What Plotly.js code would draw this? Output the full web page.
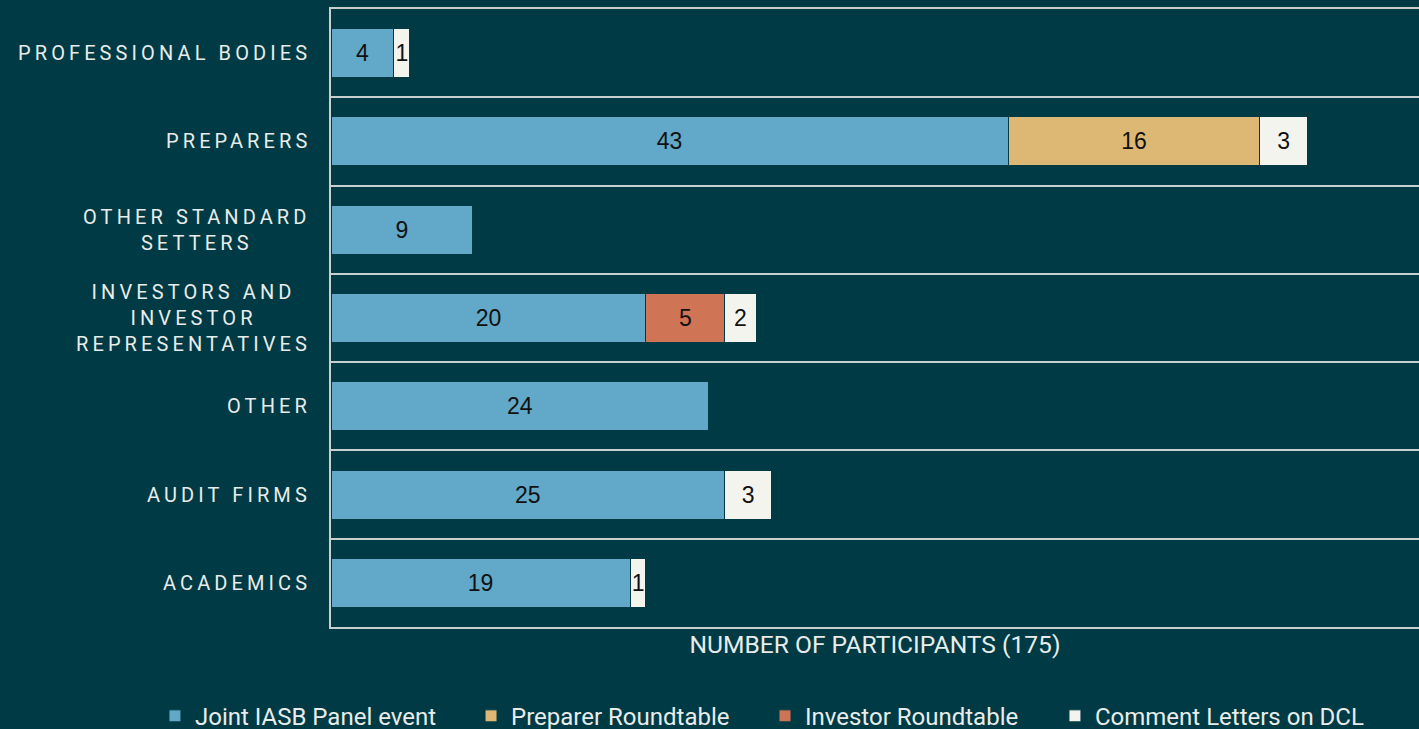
<!DOCTYPE html>
<html>
<head>
<meta charset="utf-8">
<script src="https://cdn.plot.ly/plotly-3.0.1.min.js"></script>
<style>
html, body { margin: 0; padding: 0; background: #003a44; }
#chart { width: 1419px; height: 729px; }
.annotation-text { letter-spacing: 4.1px; }
</style>
</head>
<body>
<div id="chart"></div>
<script>
// Data
const categories = ['PROFESSIONAL BODIES', 'PREPARERS', 'OTHER STANDARD SETTERS',
  'INVESTORS AND INVESTOR REPRESENTATIVES', 'OTHER', 'AUDIT FIRMS', 'ACADEMICS'];
const categoryLabels = ['PROFESSIONAL BODIES', 'PREPARERS', 'OTHER STANDARD<br>SETTERS',
  'INVESTORS AND<br>INVESTOR<br>REPRESENTATIVES', 'OTHER', 'AUDIT FIRMS', 'ACADEMICS'];
const jointPanel = [4, 43, 9, 20, 24, 25, 19];
const preparerRoundtable = [null, 16, null, null, null, null, null];
const investorRoundtable = [null, null, null, 5, null, null, null];
const commentLetters = [1, 3, null, 2, null, 3, 1];
const seriesNames = ['Joint IASB Panel event', 'Preparer Roundtable', 'Investor Roundtable', 'Comment Letters on DCL'];
const xTitle = 'NUMBER OF PARTICIPANTS (175)';

const bg = '#003a44';
const colors = ['#62a8c8', '#dcb874', '#d07456', '#f4f4ef'];
const seriesValues = [jointPanel, preparerRoundtable, investorRoundtable, commentLetters];
const legendIds = ['legend', 'legend2', 'legend3', 'legend4'];
const legendX = [-0.1618, 0.1287, 0.3989, 0.6654];

const traces = seriesValues.map((vals, i) => ({
  type: 'bar',
  orientation: 'h',
  name: seriesNames[i],
  legend: legendIds[i],
  y: categories,
  x: vals,
  text: vals.map(v => v == null ? '' : String(v)),
  textposition: 'inside',
  insidetextanchor: 'middle',
  constraintext: 'none',
  textfont: { family: 'Liberation Sans, Arial, sans-serif', size: 23, color: '#111111' },
  marker: { color: colors[i], line: { color: bg, width: 1 } },
  hoverinfo: 'skip'
}));

const annotations = categories.map((c, i) => ({
  xref: 'paper', yref: 'y',
  x: -0.017, y: c,
  xanchor: 'right', yanchor: 'middle',
  align: 'center',
  text: categoryLabels[i],
  showarrow: false,
  font: { family: 'Roboto, sans-serif', size: 20, color: '#e8ecea' }
}));

const layout = {
  width: 1419, height: 729,
  paper_bgcolor: bg, plot_bgcolor: bg,
  margin: { l: 331, r: 0, t: 9, b: 102, autoexpand: false },
  barmode: 'stack',
  bargap: 0.445,
  showlegend: true,
  xaxis: {
    range: [0, 69.1],
    showgrid: false, zeroline: false,
    showticklabels: false, ticks: '',
    showline: true, linecolor: '#c9cfcf', linewidth: 2, mirror: true,
    title: { text: xTitle, standoff: 8,
      font: { family: 'Roboto, sans-serif', size: 24.6, color: '#e8ecea' } },
    fixedrange: true
  },
  yaxis: {
    type: 'category',
    autorange: 'reversed',
    tickson: 'boundaries',
    showgrid: true, gridcolor: '#c9cfcf', gridwidth: 2,
    showticklabels: false, ticks: '',
    showline: true, linecolor: '#c9cfcf', linewidth: 2,
    zeroline: false,
    fixedrange: true
  },
  annotations: annotations
};

legendIds.forEach((id, i) => {
  layout[id] = {
    orientation: 'h',
    x: legendX[i], xanchor: 'left',
    y: -0.108, yanchor: 'top',
    font: { family: 'Roboto, sans-serif', size: 24, color: '#e8ecea' },
    bgcolor: 'rgba(0,0,0,0)',
    itemclick: false, itemdoubleclick: false
  };
});

Plotly.newPlot('chart', traces, layout, { displayModeBar: false, staticPlot: true });
</script>
</body>
</html>
